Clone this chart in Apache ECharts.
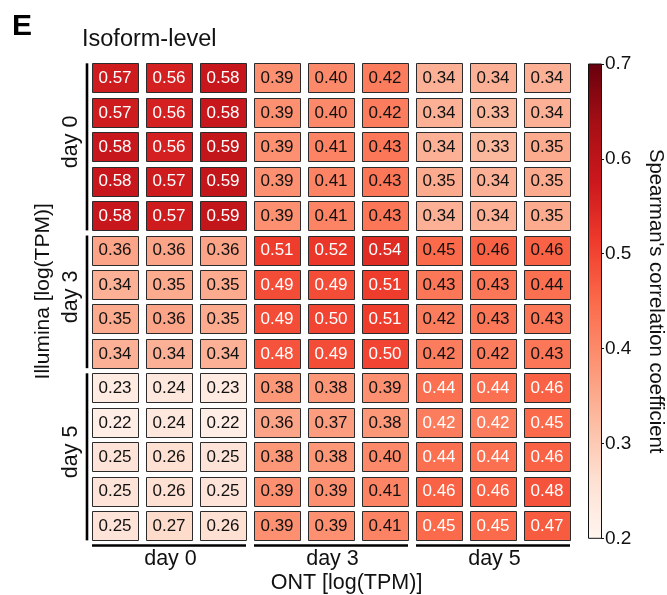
<!DOCTYPE html>
<html><head><meta charset="utf-8">
<script src="https://cdn.jsdelivr.net/npm/echarts@6/dist/echarts.min.js"></script>
<style>html,body{margin:0;padding:0;background:#fff}#c{width:667px;height:595px}</style>
</head><body><div id="c"></div>
<script>
// ---- data ----
const ontColumns = ['ONT d0 r1','ONT d0 r2','ONT d0 r3','ONT d3 r1','ONT d3 r2','ONT d3 r3','ONT d5 r1','ONT d5 r2','ONT d5 r3'];
const illuminaRows = ['Ill d0 r1','Ill d0 r2','Ill d0 r3','Ill d0 r4','Ill d0 r5',
  'Ill d3 r1','Ill d3 r2','Ill d3 r3','Ill d3 r4',
  'Ill d5 r1','Ill d5 r2','Ill d5 r3','Ill d5 r4','Ill d5 r5'];
const ontGroups = [['day 0',0,2],['day 3',3,5],['day 5',6,8]];
const illuminaGroups = [['day 0',0,4],['day 3',5,8],['day 5',9,13]];
const day0Rows = [
  [0.57,0.56,0.58,0.39,0.40,0.42,0.34,0.34,0.34],
  [0.57,0.56,0.58,0.39,0.40,0.42,0.34,0.33,0.34],
  [0.58,0.56,0.59,0.39,0.41,0.43,0.34,0.33,0.35],
  [0.58,0.57,0.59,0.39,0.41,0.43,0.35,0.34,0.35],
  [0.58,0.57,0.59,0.39,0.41,0.43,0.34,0.34,0.35]
];
const day3Rows = [
  [0.36,0.36,0.36,0.51,0.52,0.54,0.45,0.46,0.46],
  [0.34,0.35,0.35,0.49,0.49,0.51,0.43,0.43,0.44],
  [0.35,0.36,0.35,0.49,0.50,0.51,0.42,0.43,0.43],
  [0.34,0.34,0.34,0.48,0.49,0.50,0.42,0.42,0.43]
];
const day5Rows = [
  [0.23,0.24,0.23,0.38,0.38,0.39,0.44,0.44,0.46],
  [0.22,0.24,0.22,0.36,0.37,0.38,0.42,0.42,0.45],
  [0.25,0.26,0.25,0.38,0.38,0.40,0.44,0.44,0.46],
  [0.25,0.26,0.25,0.39,0.39,0.41,0.46,0.46,0.48],
  [0.25,0.27,0.26,0.39,0.39,0.41,0.45,0.45,0.47]
];
const colorbarRange = [0.2, 0.7];
const redsPalette = ['#fff5f0','#fee0d2','#fcbba1','#fc9272','#fb6a4a','#ef3b2c','#cb181d','#a50f15','#67000d'];

// ---- build ----
const FONT = '"Liberation Sans", Arial, Helvetica, sans-serif';
const allRows = day0Rows.concat(day3Rows, day5Rows);
function groupOf(groups, idx){ for (let g=0; g<groups.length; g++){ if(idx>=groups[g][1] && idx<=groups[g][2]) return g; } return -1; }
const cells = [];
allRows.forEach((row, r) => row.forEach((v, c) => cells.push([c, r, v, groupOf(illuminaGroups, r), groupOf(ontGroups, c)])));

const CELL_W = 46/54, CELL_H = 29.3/34.44;

function renderCell(params, api){
  const p = api.coord([api.value(0), api.value(1)]);
  const s = api.size([1,1]);
  const w = s[0]*CELL_W, h = s[1]*CELL_H;
  const v = api.value(2);
  const white = v >= 0.47 || (api.value(3) === 2 && api.value(4) === 2);
  return {type:'group', children:[
    {type:'rect', shape:{x:Math.round(p[0]-w/2)+0.5, y:Math.round(p[1]-h/2)+0.5, width:Math.round(w), height:Math.round(h)},
      style:{fill:api.visual('color'), stroke:'#2b2b2b', lineWidth:1}},
    {type:'text', x:p[0], y:p[1]+0.5, style:{text:v.toFixed(2), fill: white ? '#ffffff' : '#111111',
      fontSize:17, fontFamily:FONT, align:'center', verticalAlign:'middle'}}
  ]};
}

function renderXGroup(params, api){
  const g = ontGroups[params.dataIndex];
  const s = api.size([1,1]);
  const x1 = api.coord([g[1], 0])[0] - s[0]*CELL_W/2;
  const x2 = api.coord([g[2], 0])[0] + s[0]*CELL_W/2;
  const yb = api.coord([0, illuminaRows.length-1])[1] + s[1]/2;
  const ly = yb + 2.5;
  return {type:'group', children:[
    {type:'line', shape:{x1:x1, y1:ly, x2:x2, y2:ly}, style:{stroke:'#000', lineWidth:2.6}},
    {type:'text', x:(x1+x2)/2 + 1.5, y:ly+14, style:{text:g[0], fill:'#111', fontSize:21.5, fontFamily:FONT, align:'center', verticalAlign:'middle'}}
  ]};
}
function renderYGroup(params, api){
  const g = illuminaGroups[params.dataIndex];
  const s = api.size([1,1]);
  const y1 = api.coord([0, g[1]])[1] - s[1]*CELL_H/2;
  const y2 = api.coord([0, g[2]])[1] + s[1]*CELL_H/2;
  const xl = api.coord([0, 0])[0] - s[0]/2;
  const lx = xl - 1;
  return {type:'group', children:[
    {type:'line', shape:{x1:lx, y1:y1, x2:lx, y2:y2}, style:{stroke:'#000', lineWidth:2.6}},
    {type:'text', x:lx-15.5, y:(y1+y2)/2 - 5, rotation:Math.PI/2,
      style:{text:g[0], fill:'#111', fontSize:21.5, fontFamily:FONT, align:'center', verticalAlign:'middle'}}
  ]};
}
function renderColorbar(params, api){
  const top = api.coord([0, colorbarRange[1]]);
  const bot = api.coord([0, colorbarRange[0]]);
  const w = api.size([1, 0])[0];
  const stops = redsPalette.map((c, i) => ({offset: i/(redsPalette.length-1), color: c}));
  return {type:'rect', shape:{x:Math.round(top[0]-w/2)+0.5, y:top[1], width:w, height:bot[1]-top[1]},
    style:{fill:new echarts.graphic.LinearGradient(0,1,0,0, stops), stroke:'#111', lineWidth:1}};
}

const chart = echarts.init(document.getElementById('c'), null, {renderer:'canvas'});
chart.setOption({
  animation:false,
  backgroundColor:'#fff',
  textStyle:{fontFamily:FONT},
  title:[
    {text:'E', left:12, top:12, padding:0, textStyle:{fontSize:30, fontWeight:'bold', color:'#000', fontFamily:FONT}},
    {text:'Isoform-level', left:82, top:28, padding:0, textStyle:{fontSize:23.5, fontWeight:'normal', color:'#111', fontFamily:FONT}}
  ],
  grid:[
    {left:88, width:486, top:60.75, height:482.2, outerBoundsMode:'none', containLabel:false},
    {left:588, width:13, top:64, height:474.3, outerBoundsMode:'none', containLabel:false}
  ],
  xAxis:[
    {type:'category', gridIndex:0, data:ontColumns, axisLine:{show:false}, axisTick:{show:false}, axisLabel:{show:false}, splitLine:{show:false},
      name:'ONT [log(TPM)]', nameLocation:'middle', nameGap:29,
      nameTextStyle:{fontSize:21.5, color:'#111', fontFamily:FONT, padding:[0,0,0,31]}},
    {type:'category', gridIndex:1, data:['cb'], show:false}
  ],
  yAxis:[
    {type:'category', gridIndex:0, data:illuminaRows, inverse:true, axisLine:{show:false}, axisTick:{show:false}, axisLabel:{show:false}, splitLine:{show:false},
      name:'Illumina [log(TPM)]', nameLocation:'middle', nameGap:34, nameRotate:90,
      nameTextStyle:{fontSize:21, color:'#111', fontFamily:FONT, padding:[0,0,0,21]}},
    {type:'value', gridIndex:1, position:'right', min:colorbarRange[0], max:colorbarRange[1], interval:0.1,
      axisLine:{show:false}, axisTick:{show:true, length:3, lineStyle:{color:'#111'}}, splitLine:{show:false},
      axisLabel:{margin:4, fontSize:19, color:'#111', fontFamily:FONT, formatter:(v)=>v.toFixed(1)},
      name:"Spearman's correlation coefficient", nameLocation:'middle', nameGap:45, nameRotate:-90,
      nameTextStyle:{fontSize:20.3, color:'#111', fontFamily:FONT}}
  ],
  visualMap:{type:'continuous', show:false, min:colorbarRange[0], max:colorbarRange[1], dimension:2, seriesIndex:0,
    inRange:{color:redsPalette}},
  series:[
    {type:'custom', name:'cells', xAxisIndex:0, yAxisIndex:0, data:cells, renderItem:renderCell, clip:false, encode:{x:0, y:1}},
    {type:'custom', name:'xgroups', xAxisIndex:0, yAxisIndex:0, data:ontGroups.map(g=>[g[1], 0]), renderItem:renderXGroup, clip:false, encode:{x:0, y:1}, silent:true},
    {type:'custom', name:'ygroups', xAxisIndex:0, yAxisIndex:0, data:illuminaGroups.map(g=>[0, g[1]]), renderItem:renderYGroup, clip:false, encode:{x:0, y:1}, silent:true},
    {type:'custom', name:'colorbar', xAxisIndex:1, yAxisIndex:1, data:[[0, colorbarRange[1]]], renderItem:renderColorbar, clip:false, encode:{x:0, y:1}, silent:true}
  ]
});
</script></body></html>
